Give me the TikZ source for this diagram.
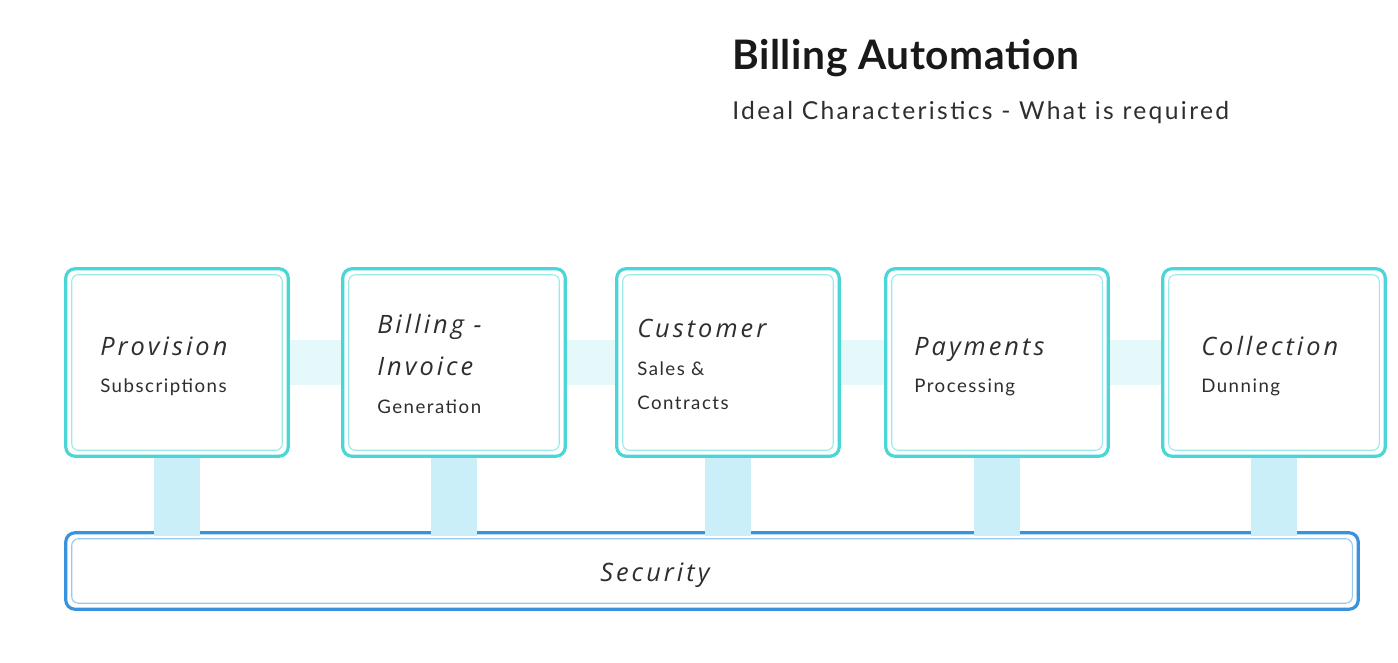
\documentclass[tikz,border=0pt]{standalone}
\usepackage{fontspec}
\setmainfont{Lato}
\newfontfamily\titlefont[LetterSpace=1.5]{Lato}
\newfontfamily\subfont[LetterSpace=9.5]{Lato}
\newfontfamily\labfont[LetterSpace=12]{Open Sans}
\newfontfamily\smallfont[LetterSpace=8]{Lato}
\definecolor{boxline}{HTML}{4AD6D6}
\definecolor{boxinner}{HTML}{9BE9E9}
\definecolor{hband}{HTML}{E6F9FA}
\definecolor{vband}{HTML}{CBEFF8}
\definecolor{secline}{HTML}{3A92DC}
\definecolor{secinner}{HTML}{98C8EE}
\definecolor{txt}{HTML}{2E2E2E}
\begin{document}
\begin{tikzpicture}[x=0.75pt,y=-0.75pt,
  stagebox/.style={draw=boxline,line width=2.4pt,fill=white,rounded corners=7pt},
  secbox/.style={draw=secline,line width=2.4pt,fill=white,rounded corners=7pt},
  innerline/.style={draw=boxinner,line width=0.8pt,rounded corners=5pt},
  secinnerline/.style={draw=secinner,line width=0.8pt,rounded corners=5pt},
  hconn/.style={draw=hband,line width=33.75pt},
  vconn/.style={draw=vband,line width=34.5pt},
  frame/.style={minimum width=166.5pt,minimum height=140.25pt,inner sep=0pt},
  lab/.style={anchor=base west,inner sep=0pt,text=txt,font=\labfont\itshape\fontsize{19}{22}\selectfont},
  sub/.style={anchor=base west,inner sep=0pt,text=txt,font=\smallfont\fontsize{14}{16}\selectfont},
]
\useasboundingbox (0,0) rectangle (1398,663);

% title
\node[anchor=base west,inner sep=0pt,text=black!90,font=\titlefont\bfseries\fontsize{30.5}{34}\selectfont] (title) at (732,70) {Billing Automation};
\node[anchor=base west,inner sep=0pt,text=txt,font=\subfont\fontsize{18.5}{22}\selectfont] (subtitle) at (732,120) {Ideal Characteristics - What is required};

% box frames (anchors)
\node[frame] (b1) at (177,362.5) {};
\node[frame] (b2) at (454,362.5) {};
\node[frame] (b3) at (728,362.5) {};
\node[frame] (b4) at (997,362.5) {};
\node[frame] (b5) at (1274,362.5) {};
\node[minimum width=969pt,minimum height=57pt,inner sep=0pt] (sec) at (712,571) {};

% connectors
\draw[hconn] (b1.east) -- (b2.west);
\draw[hconn] (b2.east) -- (b3.west);
\draw[hconn] (b3.east) -- (b4.west);
\draw[hconn] (b4.east) -- (b5.west);
\foreach \b in {b1,b2,b3,b4,b5}{
  \draw[vconn] (\b.south) -- (\b.south |- sec.north);
}

% boxes
\foreach \b in {b1,b2,b3,b4,b5}{
  \draw[stagebox] (\b.south west) rectangle (\b.north east);
  \draw[innerline] ([shift={(6,-6)}]\b.south west) rectangle ([shift={(-6,6)}]\b.north east);
}
\draw[secbox] (sec.south west) rectangle (sec.north east);
% bars overlap the security outer border
\foreach \b in {b1,b2,b3,b4,b5}{
  \draw[vconn] (\b.south |- sec.north) ++(0,-2) -- ++(0,5);
}
\draw[secinnerline] ([shift={(6,-6)}]sec.south west) rectangle ([shift={(-6,6)}]sec.north east);

% texts
\node[lab] (t1a) at (100,355) {Provision};
\node[sub] (t1b) at (100,392) {Subscriptions};
\node[lab] (t2a) at (377,333) {Billing -};
\node[lab] (t2b) at (377,375) {Invoice};
\node[sub] (t2c) at (377,413) {Generation};
\node[lab] (t3a) at (637,337) {Customer};
\node[sub] (t3b) at (637,375) {Sales \&};
\node[sub] (t3c) at (637,409) {Contracts};
\node[lab] (t4a) at (914,355) {Payments};
\node[sub] (t4b) at (914,392) {Processing};
\node[lab] (t5a) at (1201,355) {Collection};
\node[sub] (t5b) at (1201,392) {Dunning};
\node[lab] (ts) at (600,581) {Security};
\end{tikzpicture}
\end{document}
